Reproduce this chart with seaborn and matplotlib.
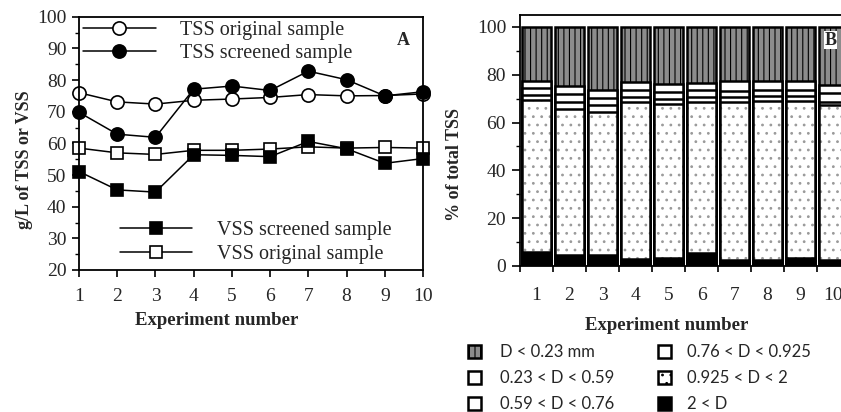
import numpy as np
import pandas as pd
import matplotlib
matplotlib.use("Agg")
import matplotlib.pyplot as plt
from matplotlib.patches import Patch
from matplotlib.lines import Line2D
import seaborn as sns

# ---------------- data ----------------
experiments = [1, 2, 3, 4, 5, 6, 7, 8, 9, 10]
tss_original = [76.0, 73.1, 72.4, 73.6, 74.0, 74.5, 75.4, 75.0, 75.1, 75.6]
tss_screened = [69.8, 62.9, 61.9, 77.1, 78.1, 76.7, 82.8, 80.1, 75.0, 76.3]
vss_original = [58.5, 57.0, 56.5, 57.8, 57.8, 58.2, 58.9, 58.5, 58.7, 58.5]
vss_screened = [51.1, 45.3, 44.6, 56.4, 56.2, 55.8, 60.6, 58.3, 53.7, 55.2]

# particle-size fractions, % of total TSS (bottom to top)
size_labels = ["2 < D", "0.925 < D < 2", "0.76 < D < 0.925",
               "0.59 < D < 0.76", "0.23 < D < 0.59", "D < 0.23 mm"]
frac_gt2 = [6.0, 4.5, 4.7, 3.1, 3.2, 5.3, 2.4, 2.5, 3.2, 2.5]
frac_0925_2 = [63.6, 61.3, 59.7, 65.5, 64.4, 63.3, 66.2, 66.5, 65.8, 65.0]
frac_076_0925 = [2.1, 3.0, 2.8, 2.2, 2.4, 2.2, 2.2, 2.0, 2.0, 1.0]
frac_059_076 = [2.9, 3.2, 3.0, 2.7, 2.8, 2.7, 2.5, 2.6, 2.8, 3.8]
frac_023_059 = [2.7, 3.2, 3.3, 3.5, 3.2, 3.0, 4.0, 3.6, 3.4, 3.3]
frac_lt023 = [22.7, 24.8, 26.5, 23.0, 24.0, 23.5, 22.7, 22.8, 22.8, 24.4]

left_ticks_y = [20, 30, 40, 50, 60, 70, 80, 90, 100]
right_ticks_y = [0, 20, 40, 60, 80, 100]

# ---------------- style ----------------
sns.set_theme(style="ticks")
plt.rcParams["font.family"] = ["Liberation Serif", "DejaVu Serif"]
plt.rcParams["hatch.linewidth"] = 0.8
plt.rcParams["axes.linewidth"] = 1.3

W, H = 841, 412
fig = plt.figure(figsize=(W / 100, H / 100), dpi=100)

def ax_rect(x0, x1, ytop, ybot):
    return [x0 / W, 1 - ybot / H, (x1 - x0) / W, (ybot - ytop) / H]

axA = fig.add_axes(ax_rect(79, 423, 16.7, 270))
axB = fig.add_axes(ax_rect(520, 850, 15, 266))

# ---------------- panel A ----------------
x = np.array(experiments)
common = dict(color="black", linewidth=1.1, markeredgecolor="black",
              markeredgewidth=1.2, clip_on=False, ax=axA)
sns.lineplot(x=x, y=tss_original, marker="o", markersize=9.5,
             markerfacecolor="white", **common)
sns.lineplot(x=x, y=tss_screened, marker="o", markersize=9.5,
             markerfacecolor="black", **common)
sns.lineplot(x=x, y=vss_original, marker="s", markersize=8.5,
             markerfacecolor="white", **common)
sns.lineplot(x=x, y=vss_screened, marker="s", markersize=8.5,
             markerfacecolor="black", **common)

axA.set_xlim(1, 10)
axA.set_ylim(20, 100)
axA.set_xticks(experiments)
axA.set_yticks(left_ticks_y)
axA.set_yticks(np.arange(20, 101, 5), minor=True)
axA.tick_params(axis="both", which="major", direction="out", length=5,
                width=1.2, labelsize=14, pad=4, color="black")
axA.tick_params(axis="x", which="major", pad=8)
axA.tick_params(axis="y", which="minor", direction="out", length=3,
                width=1.0, color="black")
for s in axA.spines.values():
    s.set_color("black")
axA.set_xlabel("Experiment number", fontsize=13.5, fontweight="bold")
axA.xaxis.set_label_coords(0.40, -0.164)
axA.set_ylabel("g/L of TSS or VSS", fontsize=13, fontweight="bold")
axA.yaxis.set_label_coords(-0.134, 0.435)

def lh(marker, fc, ms):
    return Line2D([], [], color="black", linewidth=1.1, marker=marker,
                  markersize=ms, markerfacecolor=fc, markeredgecolor="black",
                  markeredgewidth=1.2)

legA_kw = dict(loc="upper left", frameon=False, fontsize=14.5,
               handlelength=3.6, handletextpad=1.2, labelspacing=0.23,
               borderpad=0, borderaxespad=0)
legA1 = axA.legend([lh("o", "white", 9.5), lh("o", "black", 9.5)],
                   ["TSS original sample", "TSS screened sample"],
                   bbox_to_anchor=(0.012, 0.985), **legA_kw)
axA.add_artist(legA1)
axA.legend([lh("s", "black", 8.5), lh("s", "white", 8.5)],
           ["VSS screened sample", "VSS original sample"],
           bbox_to_anchor=(0.119, 0.193), **legA_kw)
axA.text(0.942, 0.905, "A", transform=axA.transAxes, fontsize=13,
         fontweight="bold", ha="center", va="center")

# ---------------- panel B ----------------
fractions = [frac_gt2, frac_0925_2, frac_076_0925, frac_059_076,
             frac_023_059, frac_lt023]
styles = [
    dict(color="black", hatch=None),
    dict(color="white", hatch=".."),
    dict(color="white", hatch=None),
    dict(color="white", hatch=None),
    dict(color="white", hatch=None),
    dict(color="#8c8c8c", hatch="|||"),
]
cum = np.cumsum(np.array(fractions), axis=0)
rows = []
for i, lab in enumerate(size_labels):
    for j, e in enumerate(experiments):
        rows.append({"experiment": e, "fraction": lab, "cumulative": cum[i, j]})
df = pd.DataFrame(rows)

# draw tallest cumulative layer first so lower layers sit on top of it
for i in reversed(range(len(size_labels))):
    sub = df[df["fraction"] == size_labels[i]]
    st = styles[i]
    if i == 1:
        # light grey stipple, then a black outline on top of it
        sns.barplot(data=sub, x="experiment", y="cumulative",
                    native_scale=True, width=0.86, color="white",
                    saturation=1, edgecolor="#9a9a9a", linewidth=0,
                    hatch=st["hatch"], errorbar=None, ax=axB)
        sns.barplot(data=sub, x="experiment", y="cumulative",
                    native_scale=True, width=0.86, color="black",
                    fill=False, linewidth=1.8, errorbar=None, ax=axB)
        continue
    kw = {}
    if st["hatch"]:
        kw["hatch"] = st["hatch"]
    sns.barplot(data=sub, x="experiment", y="cumulative", native_scale=True,
                width=0.86, color=st["color"], saturation=1,
                edgecolor="black", linewidth=1.8, errorbar=None, ax=axB, **kw)

axB.set_xlim(0.5, 10.5)
axB.set_ylim(0, 105)
axB.set_yticks(right_ticks_y)
axB.set_yticks(np.arange(0, 101, 10), minor=True)
axB.set_xticks(np.arange(0.5, 10.0, 1.0))
axB.set_xticklabels([])
axB.set_xticks(experiments, minor=True)
axB.set_xticklabels([str(e) for e in experiments], minor=True)
axB.tick_params(axis="x", which="major", direction="out", length=4,
                width=1.2, color="black")
axB.tick_params(axis="x", which="minor", length=0, labelsize=14, pad=15)
axB.tick_params(axis="y", which="major", direction="out", length=6,
                width=1.2, labelsize=14, pad=4, color="black")
axB.tick_params(axis="y", which="minor", direction="out", length=3,
                width=1.0, color="black")
for s in axB.spines.values():
    s.set_color("black")
axB.set_xlabel("Experiment number", fontsize=13.5, fontweight="bold")
axB.xaxis.set_label_coords(0.445, -0.205)
axB.set_ylabel("% of total TSS", fontsize=13, fontweight="bold")
axB.yaxis.set_label_coords(-0.173, 0.406)
axB.text(9.72, 94.5, "B", fontsize=13, fontweight="bold", ha="left",
         va="center", bbox=dict(facecolor="white", edgecolor="none", pad=0.5))

# ---------------- size-class legend ----------------
def ph(i):
    st = styles[i]
    return Patch(facecolor=st["color"], edgecolor="black", linewidth=1.8,
                 hatch=st["hatch"])

order1 = [5, 4, 3]
order2 = [2, 1, 0]
leg_kw = dict(frameon=False, loc="upper left", handlelength=0.8,
              handleheight=0.8, labelspacing=0.61, borderpad=0,
              borderaxespad=0, prop={"family": "Lato", "size": 12})
l1 = fig.legend([ph(i) for i in order1], [size_labels[i] for i in order1],
                bbox_to_anchor=(468 / W, 1 - 344 / H), handletextpad=1.14,
                **leg_kw)
l2 = fig.legend([ph(i) for i in order2], [size_labels[i] for i in order2],
                bbox_to_anchor=(658 / W, 1 - 344 / H), handletextpad=0.96,
                **leg_kw)

fig.savefig("out.png", dpi=100)
